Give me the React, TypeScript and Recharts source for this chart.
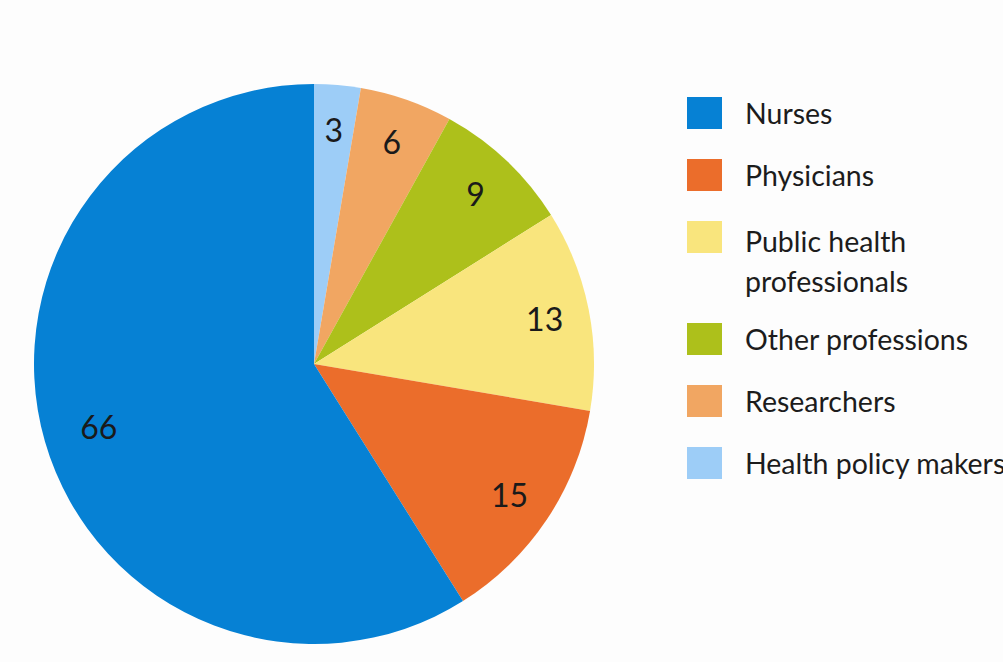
import React from "react";
import { PieChart, Pie, Cell } from "recharts";

// slices in drawing order, clockwise from 12 o'clock
const sliceNames = [
  "Health policy makers",
  "Researchers",
  "Other professions",
  "Public health professionals",
  "Physicians",
  "Nurses",
];
const sliceValues = [3, 6, 9, 13, 15, 66];
const sliceColors = ["#9dcdf7", "#f1a662", "#adc01b", "#f9e57d", "#eb6d2b", "#0681d4"];

// legend order as printed
const legendItems = [
  { lines: ["Nurses"], color: "#0681d4" },
  { lines: ["Physicians"], color: "#eb6d2b" },
  { lines: ["Public health", "professionals"], color: "#f9e57d" },
  { lines: ["Other professions"], color: "#adc01b" },
  { lines: ["Researchers"], color: "#f1a662" },
  { lines: ["Health policy makers"], color: "#9dcdf7" },
];

const data = sliceNames.map((name, i) => ({ name, value: sliceValues[i] }));

const FONT = "Lato, 'Open Sans', sans-serif";
const RAD = Math.PI / 180;

const renderLabel = (props: any) => {
  const { cx, cy, midAngle, outerRadius, value } = props;
  const r = outerRadius * (value > 50 ? 0.8 : 0.84);
  const x = cx + r * Math.cos(-midAngle * RAD);
  const y = cy + r * Math.sin(-midAngle * RAD);
  return (
    <text x={x} y={y} textAnchor="middle" dominantBaseline="central"
      fill="#1a1a1a" fontSize={32} fontFamily={FONT}>
      {value}
    </text>
  );
};

const LegendBox = () => (
  <div style={{ position: "absolute", left: 687, top: 93, width: 316, fontFamily: FONT, fontSize: 28.5, color: "#1c1c1c", lineHeight: "40px" }}>
    {legendItems.map((it) => (
      <div key={it.lines[0]} style={{ display: "flex", alignItems: "flex-start", marginBottom: it.lines.length > 1 ? 18 : 22 }}>
        <div style={{ width: 35, height: 32, background: it.color, marginTop: 4, marginRight: 23, flexShrink: 0 }} />
        <div style={{ marginTop: it.lines.length > 1 ? 4 : 0 }}>
          {it.lines.map((l) => (
            <div key={l} style={{ whiteSpace: "nowrap" }}>{l}</div>
          ))}
        </div>
      </div>
    ))}
  </div>
);

export default function App() {
  return (
    <div style={{ position: "absolute", left: 0, top: 0, width: 1003, height: 662, background: "#fdfdfd", overflow: "hidden" }}>
      <PieChart width={1003} height={662} margin={{ top: 0, right: 0, bottom: 0, left: 0 }}>
        <Pie
          data={data}
          dataKey="value"
          nameKey="name"
          cx={314}
          cy={364}
          outerRadius={280}
          startAngle={90}
          endAngle={-270}
          stroke="none"
          label={renderLabel}
          labelLine={false}
          isAnimationActive={false}
        >
          {data.map((d, i) => (
            <Cell key={d.name} fill={sliceColors[i]} />
          ))}
        </Pie>
      </PieChart>
      <LegendBox />
    </div>
  );
}
